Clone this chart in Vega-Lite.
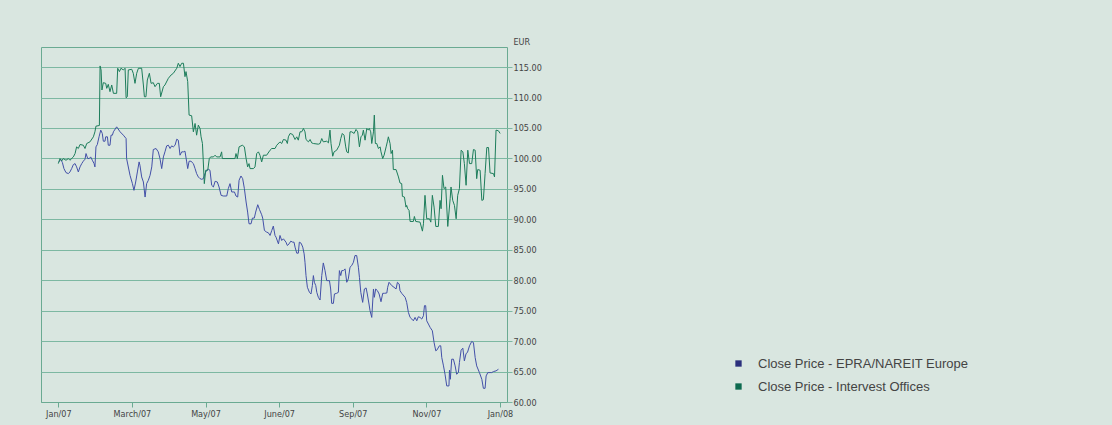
{
"$schema": "https://vega.github.io/schema/vega-lite/v6.json",
"width": 466, "height": 355,
"autosize": {"type": "none"},
"padding": {"left": 41, "top": 47, "right": 605, "bottom": 23},
"background": "#d9e6e0",
"config": {"view": {"stroke": "#6aaa92", "strokeWidth": 1}, "font": "DejaVu Sans Condensed, DejaVu Sans, sans-serif"},
"datasets": {
"epra": [
{"d":0.4,"v":99.43},{"d":1.4,"v":99.87},{"d":2.4,"v":99.32},{"d":3.3,"v":98.33},{"d":4.5,"v":97.67},{"d":5.9,"v":97.51},{"d":6.8,"v":97.78},{"d":7.8,"v":98.33},{"d":8.8,"v":98.99},{"d":9.8,"v":99.15},{"d":10.7,"v":98.61},{"d":11.7,"v":97.78},{"d":12.7,"v":98.61},{"d":13.7,"v":99.15},{"d":14.6,"v":99.54},{"d":15.6,"v":99.87},{"d":16.2,"v":100.8},{"d":17.2,"v":99.98},{"d":18.1,"v":99.98},{"d":18.9,"v":100.25},{"d":19.9,"v":99.7},{"d":20.9,"v":99.15},{"d":21.4,"v":98.61},{"d":22.0,"v":101.9},{"d":22.8,"v":102.28},{"d":23.8,"v":103.55},{"d":24.8,"v":104.65},{"d":25.7,"v":104.1},{"d":26.3,"v":102.83},{"d":27.3,"v":102.83},{"d":27.7,"v":103.55},{"d":28.7,"v":103.55},{"d":29.2,"v":102.17},{"d":30.2,"v":102.17},{"d":30.8,"v":103.82},{"d":31.6,"v":103.82},{"d":32.2,"v":104.37},{"d":34.1,"v":105.19},{"d":36.1,"v":104.37},{"d":38.0,"v":103.82},{"d":39.6,"v":103.27},{"d":39.9,"v":99.98},{"d":41.9,"v":97.23},{"d":43.3,"v":95.86},{"d":44.2,"v":94.76},{"d":45.2,"v":96.13},{"d":46.2,"v":97.78},{"d":47.2,"v":99.43},{"d":47.7,"v":98.88},{"d":48.7,"v":96.96},{"d":49.7,"v":96.13},{"d":50.7,"v":93.66},{"d":51.6,"v":95.86},{"d":52.6,"v":96.41},{"d":53.6,"v":97.23},{"d":54.6,"v":98.61},{"d":55.5,"v":101.46},{"d":57.1,"v":101.63},{"d":58.4,"v":101.08},{"d":59.4,"v":99.98},{"d":60.4,"v":98.33},{"d":61.4,"v":100.25},{"d":62.3,"v":101.08},{"d":63.3,"v":102.06},{"d":64.3,"v":102.17},{"d":65.3,"v":101.63},{"d":66.2,"v":102.06},{"d":67.2,"v":101.9},{"d":68.2,"v":102.17},{"d":69.2,"v":103.16},{"d":70.1,"v":102.99},{"d":71.1,"v":100.53},{"d":72.1,"v":101.08},{"d":73.1,"v":101.08},{"d":74.0,"v":101.19},{"d":75.0,"v":99.43},{"d":75.6,"v":98.33},{"d":76.4,"v":99.54},{"d":77.5,"v":99.54},{"d":78.9,"v":99.15},{"d":79.9,"v":98.33},{"d":80.8,"v":97.51},{"d":81.8,"v":96.96},{"d":82.8,"v":96.68},{"d":83.8,"v":96.57},{"d":84.7,"v":96.68},{"d":85.7,"v":97.51},{"d":86.7,"v":98.06},{"d":87.7,"v":98.22},{"d":88.6,"v":98.06},{"d":89.6,"v":95.59},{"d":90.6,"v":95.31},{"d":91.6,"v":96.24},{"d":92.9,"v":96.13},{"d":93.9,"v":95.31},{"d":95.1,"v":93.94},{"d":96.4,"v":93.83},{"d":98.4,"v":93.83},{"d":99.3,"v":95.04},{"d":100.3,"v":95.86},{"d":101.3,"v":94.49},{"d":102.9,"v":94.49},{"d":103.8,"v":93.83},{"d":104.8,"v":93.66},{"d":105.6,"v":96.41},{"d":106.7,"v":97.12},{"d":107.7,"v":96.68},{"d":108.7,"v":95.04},{"d":109.7,"v":92.84},{"d":110.6,"v":91.19},{"d":111.4,"v":89.27},{"d":112.6,"v":89.27},{"d":113.4,"v":90.2},{"d":114.5,"v":90.2},{"d":115.3,"v":91.19},{"d":116.5,"v":92.4},{"d":117.5,"v":91.63},{"d":118.8,"v":90.75},{"d":119.4,"v":90.2},{"d":120.4,"v":88.17},{"d":121.7,"v":87.9},{"d":122.7,"v":87.79},{"d":123.7,"v":87.35},{"d":124.7,"v":88.17},{"d":125.6,"v":88.89},{"d":126.6,"v":87.35},{"d":127.2,"v":87.07},{"d":128.6,"v":85.97},{"d":129.5,"v":87.35},{"d":130.5,"v":86.52},{"d":131.5,"v":86.8},{"d":133.0,"v":86.25},{"d":133.8,"v":85.7},{"d":134.8,"v":85.97},{"d":135.8,"v":86.41},{"d":136.9,"v":86.25},{"d":137.7,"v":86.25},{"d":138.3,"v":85.43},{"d":139.3,"v":84.44},{"d":140.2,"v":84.44},{"d":140.8,"v":86.25},{"d":141.8,"v":86.08},{"d":142.8,"v":85.43},{"d":143.6,"v":84.33},{"d":144.1,"v":82.95},{"d":144.7,"v":80.76},{"d":145.5,"v":78.84},{"d":146.7,"v":78.01},{"d":147.6,"v":77.74},{"d":148.4,"v":79.11},{"d":149.0,"v":80.76},{"d":149.6,"v":79.66},{"d":150.4,"v":79.11},{"d":151.0,"v":78.01},{"d":151.9,"v":77.19},{"d":152.9,"v":76.75},{"d":153.9,"v":80.76},{"d":154.8,"v":82.84},{"d":155.8,"v":81.58},{"d":156.8,"v":79.93},{"d":158.4,"v":79.93},{"d":159.1,"v":78.56},{"d":159.7,"v":76.2},{"d":160.7,"v":76.2},{"d":161.3,"v":77.74},{"d":162.6,"v":77.85},{"d":163.6,"v":78.01},{"d":164.2,"v":81.58},{"d":165.0,"v":80.76},{"d":165.6,"v":81.58},{"d":166.5,"v":81.58},{"d":167.5,"v":81.86},{"d":168.5,"v":79.66},{"d":169.4,"v":80.21},{"d":170.4,"v":82.13},{"d":171.4,"v":82.41},{"d":172.4,"v":82.95},{"d":173.3,"v":84.05},{"d":174.3,"v":84.05},{"d":175.3,"v":82.13},{"d":175.9,"v":80.48},{"d":176.7,"v":78.01},{"d":177.8,"v":76.36},{"d":178.8,"v":78.56},{"d":179.8,"v":78.73},{"d":180.5,"v":77.74},{"d":181.5,"v":76.09},{"d":182.1,"v":74.99},{"d":183.1,"v":73.89},{"d":184.1,"v":78.56},{"d":184.6,"v":77.19},{"d":185.4,"v":78.56},{"d":186.4,"v":78.29},{"d":187.4,"v":77.74},{"d":188.5,"v":76.47},{"d":189.5,"v":77.85},{"d":190.5,"v":77.85},{"d":191.9,"v":77.9},{"d":192.4,"v":78.84},{"d":193.2,"v":79.66},{"d":194.8,"v":79.11},{"d":196.1,"v":78.84},{"d":197.3,"v":78.56},{"d":198.1,"v":79.66},{"d":199.1,"v":79.38},{"d":199.6,"v":78.29},{"d":200.6,"v":77.85},{"d":202.6,"v":77.19},{"d":203.5,"v":76.36},{"d":204.5,"v":74.72},{"d":205.5,"v":73.89},{"d":206.5,"v":73.62},{"d":207.4,"v":73.34},{"d":208.4,"v":73.89},{"d":209.4,"v":73.34},{"d":210.3,"v":74.0},{"d":211.3,"v":73.89},{"d":212.3,"v":73.62},{"d":213.3,"v":74.17},{"d":213.9,"v":75.82},{"d":214.6,"v":75.82},{"d":215.2,"v":73.34},{"d":216.2,"v":72.8},{"d":217.2,"v":72.25},{"d":218.5,"v":71.7},{"d":219.5,"v":69.77},{"d":220.5,"v":68.4},{"d":221.1,"v":68.51},{"d":222.6,"v":69.23},{"d":223.4,"v":69.23},{"d":224.0,"v":67.3},{"d":225.0,"v":65.93},{"d":225.9,"v":64.56},{"d":226.9,"v":62.64},{"d":228.2,"v":62.64},{"d":228.5,"v":65.22},{"d":229.0,"v":63.73},{"d":229.8,"v":67.03},{"d":230.8,"v":67.03},{"d":231.8,"v":65.93},{"d":232.7,"v":64.56},{"d":233.7,"v":64.83},{"d":234.3,"v":66.48},{"d":235.3,"v":68.51},{"d":236.3,"v":68.84},{"d":237.2,"v":66.75},{"d":238.2,"v":67.96},{"d":239.0,"v":68.13},{"d":240.2,"v":69.23},{"d":241.5,"v":69.94},{"d":242.5,"v":69.77},{"d":243.5,"v":67.3},{"d":244.4,"v":65.93},{"d":246.0,"v":64.83},{"d":247.4,"v":63.73},{"d":248.3,"v":62.25},{"d":249.3,"v":62.25},{"d":249.9,"v":64.28},{"d":250.9,"v":64.83},{"d":253.2,"v":64.83},{"d":254.2,"v":65.0},{"d":255.7,"v":65.11},{"d":257.1,"v":65.38}
],
"intervest": [
{"d":0.0,"v":99.15},{"d":1.0,"v":99.98},{"d":2.0,"v":99.59},{"d":2.9,"v":99.98},{"d":4.5,"v":99.7},{"d":5.9,"v":99.98},{"d":6.8,"v":99.7},{"d":8.8,"v":100.25},{"d":9.8,"v":100.8},{"d":10.7,"v":101.9},{"d":11.7,"v":101.63},{"d":12.7,"v":102.29},{"d":14.6,"v":102.17},{"d":15.6,"v":101.63},{"d":16.6,"v":102.45},{"d":18.5,"v":102.72},{"d":20.5,"v":103.55},{"d":21.4,"v":104.37},{"d":22.0,"v":105.3},{"d":24.0,"v":105.41},{"d":24.4,"v":115.19},{"d":25.0,"v":114.53},{"d":25.5,"v":111.24},{"d":26.3,"v":112.44},{"d":27.7,"v":112.33},{"d":28.3,"v":111.51},{"d":29.2,"v":112.17},{"d":30.2,"v":110.96},{"d":31.2,"v":112.06},{"d":32.2,"v":110.69},{"d":34.1,"v":110.69},{"d":34.7,"v":114.81},{"d":35.7,"v":114.26},{"d":36.6,"v":114.81},{"d":38.0,"v":114.53},{"d":39.0,"v":114.81},{"d":39.6,"v":109.97},{"d":40.3,"v":110.13},{"d":40.9,"v":114.53},{"d":42.9,"v":114.64},{"d":43.8,"v":113.98},{"d":44.8,"v":112.33},{"d":45.8,"v":113.98},{"d":46.8,"v":114.81},{"d":48.7,"v":114.81},{"d":49.7,"v":112.06},{"d":50.3,"v":110.13},{"d":51.2,"v":110.13},{"d":52.0,"v":112.88},{"d":53.2,"v":113.98},{"d":54.2,"v":112.33},{"d":55.5,"v":112.44},{"d":56.5,"v":111.78},{"d":57.9,"v":112.33},{"d":59.0,"v":112.33},{"d":59.8,"v":110.13},{"d":61.4,"v":111.78},{"d":62.3,"v":112.06},{"d":64.3,"v":113.16},{"d":65.9,"v":113.71},{"d":67.2,"v":113.98},{"d":69.2,"v":114.81},{"d":70.1,"v":115.63},{"d":71.1,"v":115.08},{"d":72.1,"v":115.63},{"d":73.1,"v":115.63},{"d":74.0,"v":113.43},{"d":74.6,"v":114.26},{"d":75.6,"v":112.61},{"d":76.4,"v":107.12},{"d":77.9,"v":107.01},{"d":78.9,"v":104.37},{"d":79.9,"v":105.74},{"d":80.8,"v":103.82},{"d":81.8,"v":105.47},{"d":82.8,"v":104.92},{"d":83.4,"v":103.55},{"d":84.2,"v":102.45},{"d":85.3,"v":95.86},{"d":86.1,"v":98.06},{"d":87.3,"v":98.06},{"d":88.2,"v":99.98},{"d":89.0,"v":100.25},{"d":90.6,"v":100.25},{"d":91.6,"v":100.53},{"d":92.5,"v":100.25},{"d":94.5,"v":100.25},{"d":95.4,"v":101.08},{"d":95.8,"v":99.98},{"d":97.4,"v":99.98},{"d":103.2,"v":99.98},{"d":103.8,"v":100.8},{"d":104.6,"v":99.98},{"d":105.6,"v":101.9},{"d":107.5,"v":102.17},{"d":108.7,"v":101.9},{"d":109.7,"v":99.98},{"d":110.6,"v":98.61},{"d":111.4,"v":99.15},{"d":112.0,"v":98.33},{"d":114.0,"v":98.33},{"d":114.9,"v":98.61},{"d":115.9,"v":100.8},{"d":116.9,"v":101.08},{"d":117.8,"v":100.53},{"d":118.8,"v":99.43},{"d":119.8,"v":100.53},{"d":121.7,"v":100.53},{"d":123.7,"v":101.35},{"d":124.7,"v":101.63},{"d":126.6,"v":101.63},{"d":127.6,"v":102.17},{"d":129.5,"v":102.72},{"d":130.5,"v":102.45},{"d":131.5,"v":103.11},{"d":133.0,"v":103.0},{"d":133.8,"v":102.45},{"d":134.4,"v":103.55},{"d":135.4,"v":104.1},{"d":136.9,"v":103.94},{"d":138.3,"v":103.11},{"d":139.3,"v":103.55},{"d":140.2,"v":103.0},{"d":141.2,"v":104.37},{"d":142.2,"v":104.37},{"d":143.2,"v":104.92},{"d":144.1,"v":104.37},{"d":144.7,"v":103.11},{"d":146.1,"v":102.72},{"d":147.1,"v":103.11},{"d":148.0,"v":102.56},{"d":149.0,"v":102.45},{"d":151.9,"v":102.34},{"d":152.9,"v":102.45},{"d":153.9,"v":103.27},{"d":154.8,"v":102.72},{"d":156.8,"v":102.83},{"d":157.8,"v":102.56},{"d":158.7,"v":104.65},{"d":159.3,"v":102.45},{"d":160.3,"v":100.36},{"d":161.1,"v":101.08},{"d":162.6,"v":101.35},{"d":164.2,"v":102.17},{"d":165.0,"v":103.27},{"d":165.9,"v":104.1},{"d":166.9,"v":103.82},{"d":167.9,"v":101.9},{"d":168.5,"v":101.08},{"d":169.4,"v":100.91},{"d":170.4,"v":104.37},{"d":171.4,"v":104.37},{"d":172.8,"v":104.1},{"d":173.9,"v":104.76},{"d":174.9,"v":104.37},{"d":175.9,"v":101.9},{"d":176.8,"v":103.55},{"d":177.6,"v":103.82},{"d":178.2,"v":104.65},{"d":179.2,"v":103.0},{"d":180.2,"v":104.92},{"d":181.1,"v":104.65},{"d":181.7,"v":104.92},{"d":182.5,"v":104.37},{"d":183.1,"v":102.45},{"d":184.1,"v":104.37},{"d":184.6,"v":107.12},{"d":185.2,"v":102.45},{"d":186.0,"v":102.45},{"d":187.0,"v":101.63},{"d":188.0,"v":101.9},{"d":188.5,"v":101.08},{"d":189.5,"v":99.98},{"d":190.3,"v":100.53},{"d":191.5,"v":101.9},{"d":192.2,"v":102.72},{"d":192.8,"v":103.55},{"d":193.8,"v":102.45},{"d":194.4,"v":100.8},{"d":195.2,"v":101.35},{"d":195.7,"v":98.17},{"d":197.3,"v":98.17},{"d":198.7,"v":96.96},{"d":199.6,"v":95.97},{"d":200.6,"v":95.86},{"d":201.0,"v":93.77},{"d":202.2,"v":93.66},{"d":203.1,"v":92.01},{"d":203.5,"v":92.29},{"d":204.1,"v":91.74},{"d":204.9,"v":91.46},{"d":205.5,"v":89.65},{"d":207.4,"v":89.65},{"d":208.0,"v":90.47},{"d":208.8,"v":89.65},{"d":211.3,"v":89.54},{"d":212.7,"v":88.06},{"d":213.3,"v":89.27},{"d":214.2,"v":93.94},{"d":215.2,"v":90.09},{"d":216.8,"v":90.09},{"d":217.6,"v":89.54},{"d":218.5,"v":93.94},{"d":219.5,"v":92.01},{"d":220.5,"v":88.83},{"d":222.0,"v":88.83},{"d":223.0,"v":93.11},{"d":223.6,"v":91.74},{"d":224.4,"v":97.23},{"d":225.3,"v":95.04},{"d":226.3,"v":95.31},{"d":227.5,"v":88.83},{"d":228.9,"v":93.39},{"d":229.4,"v":95.31},{"d":230.4,"v":93.11},{"d":231.4,"v":92.29},{"d":232.4,"v":90.09},{"d":233.3,"v":93.94},{"d":234.3,"v":95.04},{"d":235.3,"v":101.35},{"d":236.3,"v":101.08},{"d":237.2,"v":99.15},{"d":238.2,"v":95.59},{"d":239.2,"v":101.35},{"d":240.2,"v":99.15},{"d":241.5,"v":99.15},{"d":242.5,"v":101.46},{"d":243.5,"v":101.35},{"d":244.4,"v":96.68},{"d":245.0,"v":98.17},{"d":246.4,"v":98.06},{"d":247.4,"v":93.11},{"d":248.3,"v":93.22},{"d":249.3,"v":97.51},{"d":250.3,"v":101.79},{"d":251.3,"v":101.79},{"d":252.2,"v":97.62},{"d":254.2,"v":97.51},{"d":254.8,"v":96.96},{"d":255.7,"v":104.65},{"d":257.1,"v":104.54},{"d":258.1,"v":104.1}
]
},
"encoding": {
"x": {"field": "d", "type": "quantitative", "scale": {"domain": [-10.1, 262.1], "nice": false, "zero": false},
"axis": {"values": [0, 43, 86, 129, 172, 215, 258], "labelExpr": "['Jan/07','March/07','May/07','June/07','Sep/07','Nov/07','Jan/08'][round(datum.value/43)]", "grid": false, "domainColor": "#6aaa92", "tickColor": "#6aaa92", "tickSize": 5, "labelFontSize": 9, "labelColor": "#444444", "labelPadding": 2, "labelOverlap": false, "title": null}},
"y": {"field": "v", "type": "quantitative", "scale": {"domain": [60, 118.3], "nice": false, "zero": false},
"axis": {"orient": "right", "values": [60, 65, 70, 75, 80, 85, 90, 95, 100, 105, 110, 115], "format": ".2f", "grid": true, "gridColor": "#7db8a2", "gridWidth": 1, "domain": false, "tickColor": "#7db8a2", "tickSize": 5, "labelPadding": 1, "labelFontSize": 9, "labelColor": "#444444", "labelOverlap": false, "labelBound": false, "title": "EUR", "titleAngle": 0, "titleX": 6, "titleY": -6, "titleAlign": "left", "titleBaseline": "middle", "titleFontWeight": "normal", "titleFontSize": 9, "titleColor": "#444444"}},
"order": {"field": "d"}
},
"layer": [
{
"data": {"name": "epra"},
"mark": {"type": "line", "strokeWidth": 1},
"encoding": {
"stroke": {"datum": "Close Price - EPRA/NAREIT Europe", "type": "nominal",
"scale": {"domain": ["Close Price - EPRA/NAREIT Europe", "Close Price - Intervest Offices"], "range": ["#4350a8", "#1d7d5b"]},
"legend": {"orient": "none", "legendX": 691, "legendY": 310, "title": null, "padding": 0, "symbolType": "square", "symbolSize": 40, "symbolStrokeWidth": 0, "labelFontSize": 13, "labelFont": "Liberation Sans, Arial, sans-serif", "labelColor": "#444444", "labelOffset": 13, "labelLimit": 400, "rowPadding": 9,
"encode": {"symbols": {"update": {"fill": [{"test": "datum.value === 'Close Price - EPRA/NAREIT Europe'", "value": "#2b2f7c"}, {"value": "#0d6a4f"}], "stroke": {"value": "transparent"}, "opacity": {"value": 1}}}}}}
}
},
{
"data": {"name": "intervest"},
"mark": {"type": "line", "strokeWidth": 1},
"encoding": {
"stroke": {"datum": "Close Price - Intervest Offices", "type": "nominal"}
}
}
]
}
